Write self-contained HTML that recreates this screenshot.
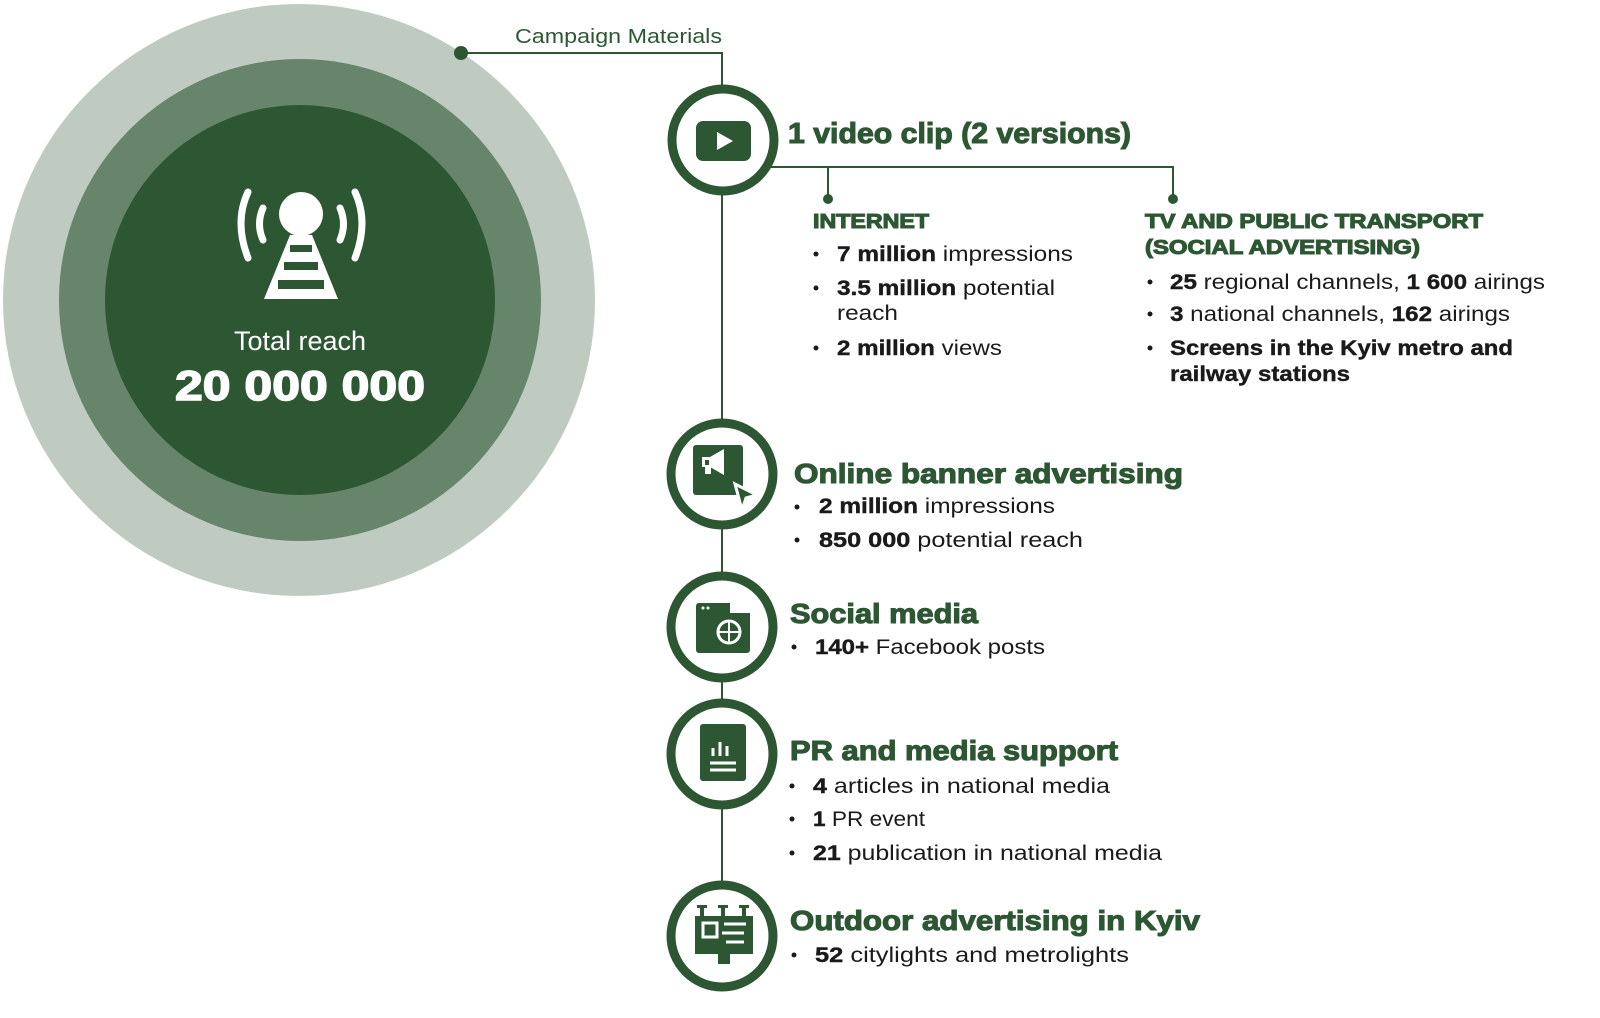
<!DOCTYPE html>
<html><head><meta charset="utf-8"><style>
html,body{margin:0;padding:0;background:#fff;}
svg{display:block;}
.t{font-family:"Liberation Sans",sans-serif;font-weight:bold;fill:#2d5733;stroke:#2d5733;stroke-width:1.1;}
.b{font-family:"Liberation Sans",sans-serif;fill:#1a1a1a;font-size:21px;}
.b tspan.k{font-weight:bold;stroke:#1a1a1a;stroke-width:0.4;}
</style></head><body>
<svg width="1600" height="1018" viewBox="0 0 1600 1018" xmlns="http://www.w3.org/2000/svg">
<circle cx="299" cy="300" r="296" fill="#bfcbc0"/>
<circle cx="300" cy="300" r="241" fill="#66856a"/>
<circle cx="300" cy="300" r="195" fill="#2d5733"/>
<g fill="none" stroke="#fff" stroke-width="7" stroke-linecap="round">
<path d="M248 192 Q234 222 248 258"/><path d="M263 208 Q256 224 263 240"/>
<path d="M355 192 Q369 222 355 258"/><path d="M340 208 Q347 224 340 240"/>
</g>
<circle cx="301" cy="214" r="22" fill="#fff"/>
<path d="M290 235 L312 235 L338 299 L264 299 Z" fill="#fff"/>
<g fill="#2d5733"><rect x="290" y="245" width="22" height="7"/><rect x="284" y="262" width="34" height="8"/><rect x="278" y="280" width="46" height="9"/></g>
<text x="300" y="350" text-anchor="middle" font-family="Liberation Sans,sans-serif" font-size="27" fill="#fff">Total reach</text>
<text x="300" y="400" text-anchor="middle" font-family="Liberation Sans,sans-serif" font-weight="bold" font-size="42" fill="#fff" stroke="#fff" stroke-width="1.5" textLength="250" lengthAdjust="spacingAndGlyphs">20 000 000</text>
<g stroke="#2d5733" stroke-width="2" fill="none">
<polyline points="461,53 722,53 722,940"/>
<polyline points="760,167 1173,167 1173,198"/>
<line x1="828" y1="167" x2="828" y2="198"/>
</g>
<circle cx="461" cy="53" r="7" fill="#2d5733"/>
<circle cx="828" cy="199" r="5" fill="#2d5733"/>
<circle cx="1173" cy="199" r="5" fill="#2d5733"/>
<text x="515" y="43" font-family="Liberation Sans,sans-serif" font-size="20" fill="#2d5733" textLength="207" lengthAdjust="spacingAndGlyphs">Campaign Materials</text>
<g fill="#fff" stroke="#2d5733" stroke-width="9">
<circle cx="723" cy="140" r="51"/>
<circle cx="722" cy="474" r="51"/>
<circle cx="722" cy="627" r="51"/>
<circle cx="722" cy="754" r="51"/>
<circle cx="722" cy="936" r="51"/>
</g>
<rect x="696" y="121" width="55" height="40" rx="7" fill="#2d5733"/>
<path d="M717 132 L717 150 L733 141 Z" fill="#fff"/>
<rect x="693" y="445" width="50" height="50" rx="3" fill="#2d5733"/>
<path d="M735 484 L757 495 L746 498 L742 510 Z" fill="#2d5733" stroke="#fff" stroke-width="3"/>
<path d="M702 457 h8 l14 -8 v26 l-14 -8 h-8 z" fill="#fff"/><rect x="705" y="460" width="4" height="5" fill="#2d5733"/><rect x="705" y="466" width="6" height="8" fill="#fff"/>
<rect x="696" y="603" width="54" height="50" rx="3" fill="#2d5733"/>
<rect x="730" y="603" width="22" height="10" fill="#fff"/>
<circle cx="729" cy="632" r="11" fill="none" stroke="#fff" stroke-width="3"/>
<path d="M718 632 h22 M729 621 v22" stroke="#fff" stroke-width="2"/>
<circle cx="703" cy="608" r="1.5" fill="#fff"/><circle cx="708" cy="608" r="1.5" fill="#fff"/>
<rect x="700" y="724" width="46" height="57" rx="3" fill="#2d5733"/>
<g stroke="#fff" stroke-width="3"><path d="M710 770 h26 M710 763 h26 M713 756 v-8 M720 756 v-14 M727 756 v-10"/></g>
<rect x="695" y="916" width="58" height="38" fill="#2d5733"/>
<g fill="#2d5733"><rect x="700" y="906" width="4" height="10"/><rect x="721" y="906" width="4" height="10"/><rect x="742" y="906" width="4" height="10"/><rect x="697" y="905" width="10" height="3"/><rect x="718" y="905" width="10" height="3"/><rect x="739" y="905" width="10" height="3"/><rect x="718" y="954" width="12" height="10"/></g>
<rect x="703" y="923" width="14" height="14" fill="none" stroke="#fff" stroke-width="3"/>
<path d="M724 924 h22 M722 933 h22 M726 942 h18" stroke="#fff" stroke-width="3"/>
<text class="t" x="788" y="143" font-size="29" textLength="343" lengthAdjust="spacingAndGlyphs">1 video clip (2 versions)</text>
<text class="t" x="813" y="228" font-size="20" textLength="116" lengthAdjust="spacingAndGlyphs">INTERNET</text>
<circle cx="816" cy="254" r="2.5" fill="#1a1a1a"/><circle cx="816" cy="288" r="2.5" fill="#1a1a1a"/><circle cx="816" cy="348" r="2.5" fill="#1a1a1a"/>
<text class="b" x="837" y="261" textLength="236" lengthAdjust="spacingAndGlyphs"><tspan class="k">7 million</tspan> impressions</text>
<text class="b" x="837" y="295" textLength="218" lengthAdjust="spacingAndGlyphs"><tspan class="k">3.5 million</tspan> potential</text>
<text class="b" x="837" y="320" textLength="61" lengthAdjust="spacingAndGlyphs">reach</text>
<text class="b" x="837" y="355" textLength="165" lengthAdjust="spacingAndGlyphs"><tspan class="k">2 million</tspan> views</text>
<text class="t" x="1145" y="228" font-size="20" textLength="338" lengthAdjust="spacingAndGlyphs">TV AND PUBLIC TRANSPORT</text>
<text class="t" x="1145" y="254" font-size="20" textLength="275" lengthAdjust="spacingAndGlyphs">(SOCIAL ADVERTISING)</text>
<circle cx="1150" cy="282" r="2.5" fill="#1a1a1a"/><circle cx="1150" cy="314" r="2.5" fill="#1a1a1a"/><circle cx="1150" cy="348" r="2.5" fill="#1a1a1a"/>
<text class="b" x="1170" y="289" textLength="375" lengthAdjust="spacingAndGlyphs"><tspan class="k">25</tspan> regional channels, <tspan class="k">1 600</tspan> airings</text>
<text class="b" x="1170" y="321" textLength="340" lengthAdjust="spacingAndGlyphs"><tspan class="k">3</tspan> national channels, <tspan class="k">162</tspan> airings</text>
<text class="b" x="1170" y="355" font-weight="bold" stroke="#1a1a1a" stroke-width="0.4" textLength="343" lengthAdjust="spacingAndGlyphs">Screens in the Kyiv metro and</text>
<text class="b" x="1170" y="381" font-weight="bold" stroke="#1a1a1a" stroke-width="0.4" textLength="180" lengthAdjust="spacingAndGlyphs">railway stations</text>
<text class="t" x="794" y="483" font-size="28" textLength="389" lengthAdjust="spacingAndGlyphs">Online banner advertising</text>
<circle cx="797" cy="507" r="2.5" fill="#1a1a1a"/><circle cx="797" cy="540" r="2.5" fill="#1a1a1a"/>
<text class="b" x="819" y="513" textLength="236" lengthAdjust="spacingAndGlyphs"><tspan class="k">2 million</tspan> impressions</text>
<text class="b" x="819" y="547" textLength="264" lengthAdjust="spacingAndGlyphs"><tspan class="k">850 000</tspan> potential reach</text>
<text class="t" x="790" y="623" font-size="28" textLength="188" lengthAdjust="spacingAndGlyphs">Social media</text>
<circle cx="794" cy="647" r="2.5" fill="#1a1a1a"/>
<text class="b" x="815" y="654" textLength="230" lengthAdjust="spacingAndGlyphs"><tspan class="k">140+</tspan> Facebook posts</text>
<text class="t" x="790" y="760" font-size="28" textLength="328" lengthAdjust="spacingAndGlyphs">PR and media support</text>
<circle cx="792" cy="786" r="2.5" fill="#1a1a1a"/><circle cx="792" cy="819" r="2.5" fill="#1a1a1a"/><circle cx="792" cy="853" r="2.5" fill="#1a1a1a"/>
<text class="b" x="813" y="793" textLength="297" lengthAdjust="spacingAndGlyphs"><tspan class="k">4</tspan> articles in national media</text>
<text class="b" x="813" y="826" textLength="112" lengthAdjust="spacingAndGlyphs"><tspan class="k">1</tspan> PR event</text>
<text class="b" x="813" y="860" textLength="349" lengthAdjust="spacingAndGlyphs"><tspan class="k">21</tspan> publication in national media</text>
<text class="t" x="790" y="930" font-size="28" textLength="410" lengthAdjust="spacingAndGlyphs">Outdoor advertising in Kyiv</text>
<circle cx="794" cy="955" r="2.5" fill="#1a1a1a"/>
<text class="b" x="815" y="962" textLength="314" lengthAdjust="spacingAndGlyphs"><tspan class="k">52</tspan> citylights and metrolights</text>
</svg>
</body></html>
